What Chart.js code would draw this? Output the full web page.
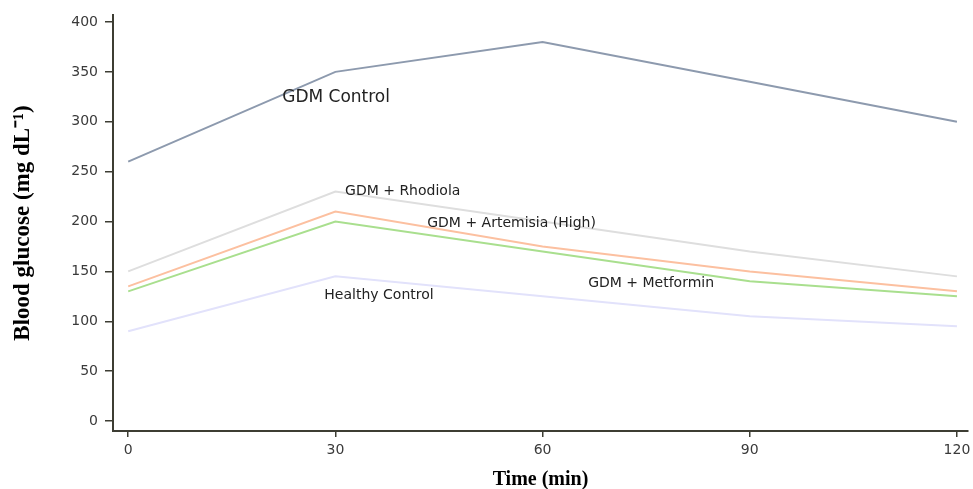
<!DOCTYPE html>
<html>
<head>
<meta charset="utf-8">
<script src="https://cdn.jsdelivr.net/npm/chart.js@4/dist/chart.umd.min.js"></script>
<style>
  html, body { margin: 0; padding: 0; background: #fff; }
  #wrap { width: 973px; height: 489px; position: relative; }
</style>
</head>
<body>
<div id="wrap"><canvas id="glucoseChart"></canvas></div>
<script>
// time points (min) and tick labels
const times = [0, 30, 60, 90, 120]
const xTicks = [0, 30, 60, 90, 120]
const yTicks = [0, 50, 100, 150, 200, 250, 300, 350, 400]

// blood glucose per group (mg/dL)
const gdmControl = [260, 350, 380, 340, 300]
const gdmRhodiola = [150, 230, 200, 170, 145]
const gdmArtemisia = [135, 210, 175, 150, 130]
const gdmMetformin = [130, 200, 170, 140, 125]
const healthyControl = [90, 145, 125, 105, 95]

const seriesNames = ["GDM Control", "GDM + Rhodiola", "GDM + Artemisia (High)", "GDM + Metformin", "Healthy Control"]
const allSeries = [gdmControl, gdmRhodiola, gdmArtemisia, gdmMetformin, healthyControl]

// in-plot name tags, anchored in data units (time, glucose)
const tagSpots = [
  { time: 22.3, glucose: 324, size: 17 },
  { time: 31.4, glucose: 230, size: 14 },
  { time: 43.3, glucose: 198, size: 14 },
  { time: 66.6, glucose: 138, size: 14 },
  { time: 28.4, glucose: 126, size: 14 },
]
const seriesColors = ["#8d9aae", "#dedede", "#fcc0a0", "#a9df8e", "#e2e2fb"]

const lineLabels = {
  id: "lineLabels",
  afterDatasetsDraw(chart) {
    const { ctx, scales } = chart
    ctx.save()
    ctx.fillStyle = "#222"
    ctx.textAlign = "left"
    ctx.textBaseline = "middle"
    seriesNames.forEach((name, i) => {
      const spot = tagSpots[i]
      ctx.font = spot.size + "px 'DejaVu Sans', Verdana, sans-serif"
      ctx.fillText(name, scales.x.getPixelForValue(spot.time), scales.y.getPixelForValue(spot.glucose))
    })
    ctx.restore()
  },
}

document.addEventListener("DOMContentLoaded", () => {
  const ctx = document.getElementById("glucoseChart").getContext("2d")
  new Chart(ctx, {
    type: "line",
    data: {
      datasets: allSeries.map((vals, i) => ({
        label: seriesNames[i],
        data: times.map((t, j) => ({ x: t, y: vals[j] })),
        borderColor: seriesColors[i],
        borderWidth: 2,
        pointRadius: 0,
        tension: 0,
        fill: false,
      })),
    },
    options: {
      responsive: true,
      maintainAspectRatio: false,
      animation: false,
      layout: { padding: { top: 15, right: 5, left: 0, bottom: 0 } },
      plugins: { legend: { display: false }, tooltip: { enabled: false } },
      scales: {
        x: {
          type: "linear",
          min: -2.2,
          max: 121.6,
          afterBuildTicks: (s) => { s.ticks = xTicks.map((v) => ({ value: v })) },
          afterFit: (s) => { s.height = 58; s.paddingLeft = 0; s.paddingRight = 0 },
          grid: { drawOnChartArea: false, drawTicks: true, tickLength: 6, color: "#3d3d33", lineWidth: 1.5 },
          border: { display: true, color: "#3d3d33", width: 2 },
          ticks: { color: "#3a3a3a", font: { family: "'DejaVu Sans'", size: 14 }, padding: 5, maxRotation: 0 },
          title: {
            display: true,
            text: "Time (min)",
            color: "#000",
            font: { family: "'Liberation Serif', serif", size: 20, weight: "bold" },
            padding: { top: 4, bottom: -3 },
          },
        },
        y: {
          min: -10,
          max: 407,
          afterBuildTicks: (s) => { s.ticks = yTicks.map((v) => ({ value: v })) },
          afterFit: (s) => { s.width = 113; s.paddingTop = 0; s.paddingBottom = 0 },
          grid: { drawOnChartArea: false, drawTicks: true, tickLength: 8, color: "#3d3d33", lineWidth: 1.5 },
          border: { display: true, color: "#3d3d33", width: 2 },
          ticks: { color: "#3a3a3a", font: { family: "'DejaVu Sans'", size: 14 }, padding: 7 },
          title: {
            display: true,
            text: "Blood glucose (mg dL\u207B\u00B9)",
            color: "#000",
            font: { family: "'Liberation Serif', serif", size: 23, weight: "bold" },
            padding: { top: 9 },
          },
        },
      },
    },
    plugins: [lineLabels],
  })
})
</script>
</body>
</html>
